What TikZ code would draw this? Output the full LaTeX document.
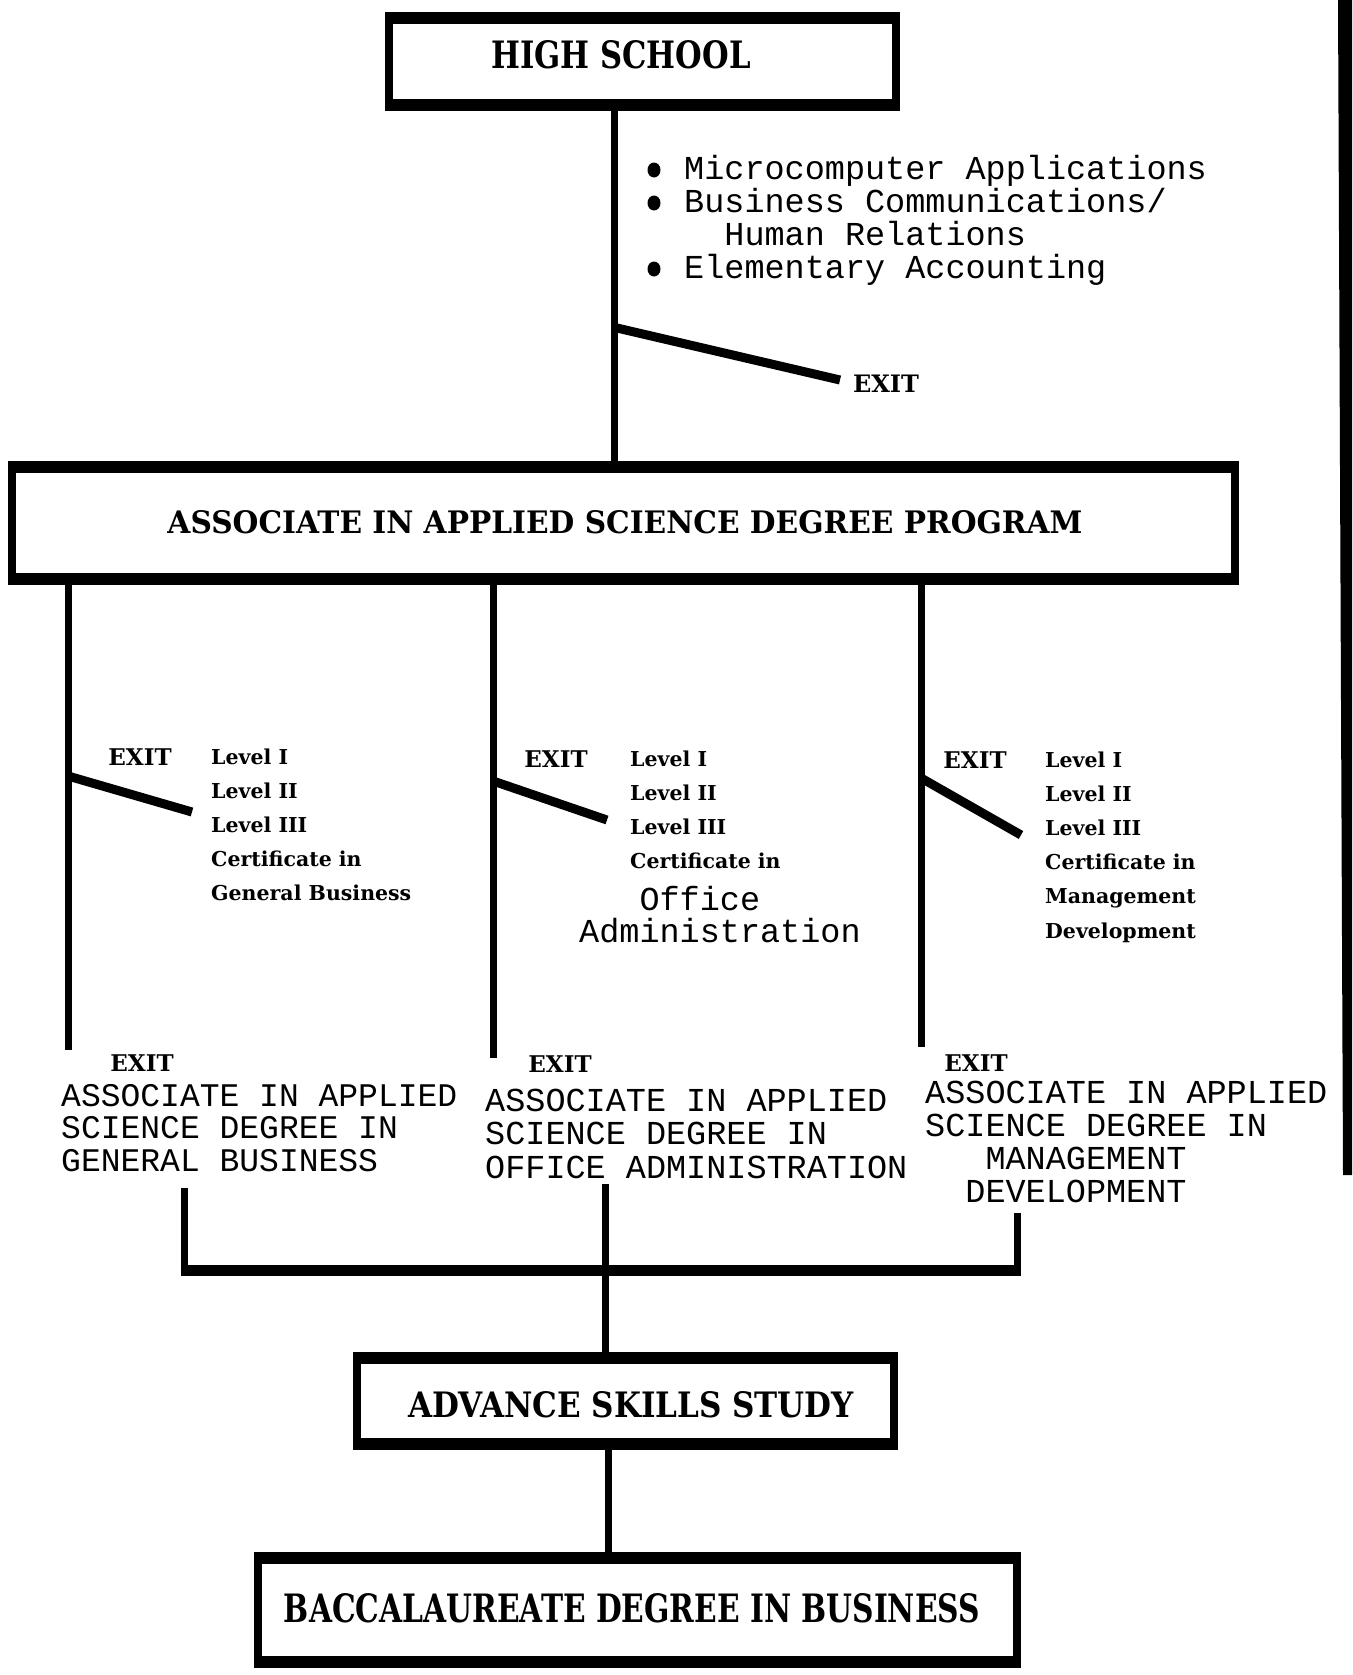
\documentclass[tikz,border=0pt]{standalone}
\usepackage{fontspec}
\usepackage{graphicx}
\setmainfont{DejaVu Serif}
\newfontfamily\typefont{Liberation Mono}
\newfontfamily\labelfont{DejaVu Serif}

\tikzset{
  boxnode/.style={draw, line width=8pt, inner sep=0pt, outer sep=0pt},
  frameedge/.style={line width=12pt},
  linkline/.style={line width=7pt},
  exitline/.style={line width=9pt},
  barline/.style={line width=11pt},
  bulletdot/.style={fill},
  titletext/.style={inner sep=0pt, font=\labelfont\bfseries},
  % multi-line nodes are placed by the baseline of their last line
  typetext/.style={inner sep=0pt, anchor=base west, align=left,
    font=\typefont\fontsize{33}{33}\selectfont},
  serifnote/.style={inner sep=0pt, anchor=base west, align=left,
    font=\labelfont\bfseries\fontsize{20.5}{34.2}\selectfont},
  exitlabel/.style={inner sep=0pt, anchor=base,
    font=\labelfont\bfseries\fontsize{23}{23}\selectfont},
}

\begin{document}
\begin{tikzpicture}[x=1pt,y=-1pt]
  \fill[white] (0,0) rectangle (1352,1675);
  \useasboundingbox (0,0) rectangle (1352,1675);

  % dark page edge on the right
  \fill (1338,0) -- (1352,0) -- (1352,1175) -- (1343,1175) -- cycle;

  % ---------- boxes ----------
  \node[boxnode, minimum width=507pt, minimum height=87pt] (hs) at (642.5,61.5) {};
  \node[boxnode, minimum width=1223pt, minimum height=112pt] (aas) at (623.5,523) {};
  \node[boxnode, minimum width=537pt, minimum height=86pt] (ass) at (625.5,1401) {};
  \node[boxnode, minimum width=759pt, minimum height=104pt] (bacc) at (637.5,1610) {};
  \foreach \b in {hs,aas,ass,bacc}{
    \draw[frameedge] ([xshift=-4pt]\b.north west) -- ([xshift=4pt]\b.north east);
    \draw[frameedge] ([xshift=-4pt]\b.south west) -- ([xshift=4pt]\b.south east);
  }

  \node[titletext] (hst) at (621,55) {\resizebox{259pt}{28pt}{HIGH SCHOOL}};
  \node[titletext] (aast) at (625,522) {\resizebox{915pt}{23pt}{ASSOCIATE IN APPLIED SCIENCE DEGREE PROGRAM}};
  \node[titletext] (asst) at (631,1405) {\resizebox{446pt}{26pt}{ADVANCE SKILLS STUDY}};
  \node[titletext] (bacct) at (632,1608) {\resizebox{696pt}{29pt}{BACCALAUREATE DEGREE IN BUSINESS}};

  % ---------- high school to program ----------
  \coordinate (spine) at (614,0);
  \draw[linkline] (hs.south -| spine) -- (aas.north -| spine);

  \fill[bulletdot] (654,170) ellipse [x radius=6.5pt, y radius=7.5pt];
  \fill[bulletdot] (654,203) ellipse [x radius=6.5pt, y radius=7.5pt];
  \fill[bulletdot] (654,269) ellipse [x radius=6.5pt, y radius=7.5pt];
  \node[typetext, font=\typefont\fontsize{33.5}{33}\selectfont] (hsitems) at (684,278)
    {Microcomputer Applications\\Business Communications/\\\hspace*{1.2em}Human Relations\\Elementary Accounting};

  \coordinate (hsfork) at (617,328);
  \coordinate (hsend) at (840,380);
  \draw[exitline] (hsfork) -- (hsend);
  \node[exitlabel, font=\labelfont\bfseries\fontsize{24}{24}\selectfont] (hsexit) at (886,392) {EXIT};

  % ---------- three tracks ----------
  \coordinate (colA) at (68,1050);
  \coordinate (colB) at (493,1058);
  \coordinate (colC) at (921,1047);
  \draw[linkline] (aas.south -| colA) -- (colA);
  \draw[linkline] (aas.south -| colB) -- (colB);
  \draw[linkline] (aas.south -| colC) -- (colC);

  \coordinate (forkA) at (68,776);   \coordinate (endA) at (192,812);
  \coordinate (forkB) at (493,781);  \coordinate (endB) at (607,820);
  \coordinate (forkC) at (921,778);  \coordinate (endC) at (1021,835);
  \draw[exitline] (forkA) -- (endA);
  \draw[exitline] (forkB) -- (endB);
  \draw[exitline] (forkC) -- (endC);

  \node[exitlabel] (exitA) at (140,765) {EXIT};
  \node[exitlabel] (exitB) at (556,767) {EXIT};
  \node[exitlabel] (exitC) at (975,768) {EXIT};

  \node[serifnote] (levA) at (211,900.8)
    {Level I\\Level II\\Level III\\Certificate in\\General Business};
  \node[serifnote] (levB) at (630,868.6)
    {Level I\\Level II\\Level III\\Certificate in};
  \node[typetext, font=\typefont\fontsize{33.5}{32}\selectfont] (offB) at (579,942)
    {\hspace*{1.8em}Office\\Administration};
  \node[serifnote] (levC) at (1045,938)
    {Level I\\Level II\\Level III\\Certificate in\\Management\\Development};

  \node[exitlabel] (dexitA) at (142,1071) {EXIT};
  \node[exitlabel] (dexitB) at (560,1072) {EXIT};
  \node[exitlabel] (dexitC) at (976,1071) {EXIT};

  \node[typetext, font=\typefont\fontsize{33}{32.5}\selectfont] (degA) at (61,1171)
    {ASSOCIATE IN APPLIED\\SCIENCE DEGREE IN\\GENERAL BUSINESS};
  \node[typetext, font=\typefont\fontsize{33.5}{33.5}\selectfont] (degB) at (485,1178)
    {ASSOCIATE IN APPLIED\\SCIENCE DEGREE IN\\OFFICE ADMINISTRATION};
  \node[typetext, font=\typefont\fontsize{33.5}{33}\selectfont] (degC) at (925,1202)
    {ASSOCIATE IN APPLIED\\SCIENCE DEGREE IN\\\hspace*{1.8em}MANAGEMENT\\\hspace*{1.2em}DEVELOPMENT};

  % ---------- merge into advanced study ----------
  \coordinate (stubA) at (184,1188);
  \coordinate (stubB) at (605,1184);
  \coordinate (stubC) at (1017,1213);
  \coordinate (barlevel) at (0,1270);
  \draw[linkline] (stubA) -- (stubA |- barlevel);
  \draw[linkline] (stubC) -- (stubC |- barlevel);
  \draw[barline] ([xshift=-3.5pt]stubA |- barlevel) -- ([xshift=3.5pt]stubC |- barlevel);
  \draw[linkline] (stubB) -- (ass.north -| stubB);

  \coordinate (lower) at (608,0);
  \draw[linkline] (ass.south -| lower) -- (bacc.north -| lower);
\end{tikzpicture}
\end{document}
